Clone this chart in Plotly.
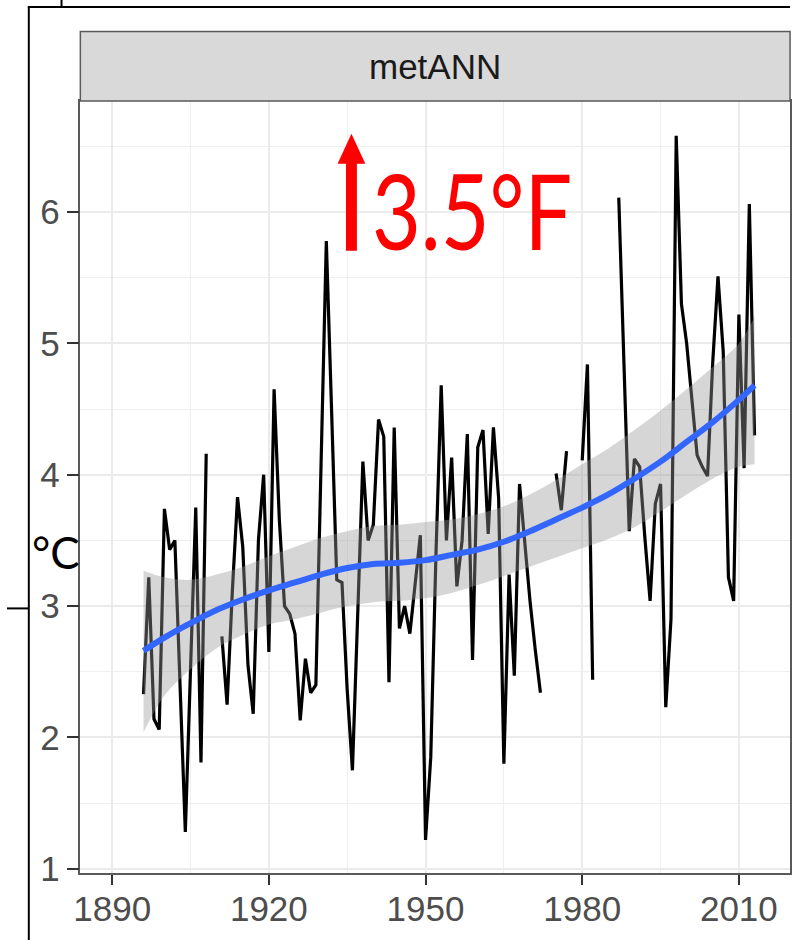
import plotly.graph_objects as go

# ---------------- data ----------------
years = list(range(1896, 2014))
temps = [
    2.33, 3.22, 2.14, 2.06, 3.74, 3.43, 3.50, 2.42, 1.28, 2.52,   # 1896-1905
    3.75, 1.81, 4.16, None, None, 2.77, 2.25, 3.11, 3.83, 3.45,   # 1906-1915
    2.55, 2.18, 3.50, 4.00, 2.65, 4.65, 3.66, 3.00, 2.94, 2.79,   # 1916-1925
    2.13, 2.60, 2.34, 2.40, 4.05, 5.78, 4.50, 3.20, 3.18, 2.36,   # 1926-1935
    1.75, 2.92, 4.10, 3.50, 3.62, 4.42, 4.29, 2.42, 4.36, 2.83,   # 1936-1945
    3.00, 2.79, 3.15, 3.54, 1.22, 1.85, 3.40, 4.68, 3.50, 4.13,   # 1946-1955
    3.15, 3.50, 4.31, 2.59, 4.21, 4.34, 3.55, 4.36, 3.82, 1.80,   # 1956-1965
    3.24, 2.47, 3.93, 3.46, 3.04, 2.67, 2.34, None, None, 4.01,   # 1966-1975
    3.73, 4.18, None, None, 4.11, 4.84, 2.44, None, None, None,   # 1976-1985
    None, 6.11, 4.84, 3.57, 4.12, 4.06, 3.52, 3.04, 3.78, 3.93,   # 1986-1995
    2.23, 2.90, 6.58, 5.30, 5.00, 4.54, 4.15, 4.06, 3.99, 4.86,   # 1996-2005
    5.51, 4.94, 3.22, 3.04, 5.22, 4.05, 6.06, 4.30,               # 2006-2013
]

smooth_years = [1896, 1900, 1905, 1910, 1915, 1920, 1925, 1930, 1935, 1940, 1945, 1950,
                1955, 1960, 1965, 1970, 1975, 1980, 1985, 1990, 1995, 2000, 2005, 2010, 2013]
smooth_fit = [2.66, 2.76, 2.87, 2.97, 3.05, 3.12, 3.18, 3.24, 3.29, 3.32, 3.33, 3.35,
              3.39, 3.43, 3.49, 3.57, 3.66, 3.75, 3.85, 3.97, 4.10, 4.25, 4.40, 4.57, 4.68]
smooth_hi = [3.27, 3.22, 3.20, 3.24, 3.30, 3.38, 3.45, 3.52, 3.57, 3.61, 3.62, 3.64,
             3.66, 3.70, 3.76, 3.85, 3.96, 4.08, 4.20, 4.34, 4.49, 4.65, 4.82, 5.00, 5.20]
smooth_lo = [2.04, 2.32, 2.52, 2.68, 2.78, 2.86, 2.90, 2.95, 3.00, 3.03, 3.04, 3.06,
             3.10, 3.16, 3.23, 3.30, 3.37, 3.44, 3.51, 3.60, 3.72, 3.85, 3.97, 4.06, 4.08]

x_ticks = [1890, 1920, 1950, 1980, 2010]
y_ticks = [1, 2, 3, 4, 5, 6]
panel_title = "metANN"
change_label = "3.5°F"
unit_label = "°C"

W, H = 796, 940
SY = 0.985  # vertical compensation observed in the rendered page


def px(x):
    return x / W


def py(y):
    return 1 - (y / SY) / H


fig = go.Figure()

fig.add_trace(go.Scatter(x=years, y=temps, mode="lines", connectgaps=False,
                         line=dict(color="black", width=3.2), hoverinfo="skip"))
fig.add_trace(go.Scatter(x=smooth_years, y=smooth_lo, mode="lines",
                         line=dict(width=0, shape="spline"), hoverinfo="skip"))
fig.add_trace(go.Scatter(x=smooth_years, y=smooth_hi, mode="lines", fill="tonexty",
                         fillcolor="rgba(153,153,153,0.4)",
                         line=dict(width=0, shape="spline"), hoverinfo="skip"))
fig.add_trace(go.Scatter(x=smooth_years, y=smooth_fit, mode="lines",
                         line=dict(color="#3366FF", width=6, shape="spline"),
                         hoverinfo="skip"))

axis_common = dict(
    showline=True, linecolor="#5a5a5a", linewidth=1.5, mirror=True,
    ticks="outside", tickcolor="#333333", tickwidth=2,
    tickfont=dict(family="Liberation Sans, Arial, sans-serif", size=35, color="#4d4d4d"),
    gridcolor="#ebebeb", gridwidth=1.6, zeroline=False,
)

fig.update_layout(
    width=W, height=H,
    margin=dict(l=0, r=0, t=0, b=0),
    paper_bgcolor="white", plot_bgcolor="white",
    showlegend=False,
    xaxis=dict(domain=[px(74), px(790)], range=[1883.9, 2019.8],
               tickvals=x_ticks, ticklen=10, ticklabelstandoff=-6,
               minor=dict(dtick=15, tick0=1890, showgrid=True, gridcolor="#efefef",
                          gridwidth=1.3, ticks=""),
               **axis_common),
    yaxis=dict(domain=[py(874), py(101)], range=[0.967, 6.846],
               tickvals=y_ticks, ticklen=12,
               minor=dict(dtick=0.5, tick0=1, showgrid=True, gridcolor="#efefef",
                          gridwidth=1.3, ticks=""),
               **axis_common),
)

shapes = []
# facet strip
shapes.append(dict(type="rect", xref="paper", yref="paper",
                   x0=px(74), x1=px(790), y0=py(101), y1=py(31.5),
                   fillcolor="#d9d9d9", line=dict(color="#5a5a5a", width=1.5)))
# red arrow
shapes.append(dict(type="rect", xref="paper", yref="paper",
                   x0=px(342), x1=px(353), y0=py(251), y1=py(162),
                   fillcolor="#ff0000", line=dict(width=0)))
shapes.append(dict(type="path", xref="paper", yref="paper",
                   path=f"M {px(333.5)} {py(164)} L {px(361.5)} {py(164)} L {px(347.5)} {py(134)} Z",
                   fillcolor="#ff0000", line=dict(width=0)))
# surrounding black frame lines from the screenshot
frame = dict(color="black", width=2)
shapes.append(dict(type="line", xref="paper", yref="paper",
                   x0=px(22), x1=px(22), y0=py(7), y1=py(960), line=frame))
shapes.append(dict(type="line", xref="paper", yref="paper",
                   x0=px(21), x1=px(790), y0=py(7), y1=py(7), line=frame))
shapes.append(dict(type="line", xref="paper", yref="paper",
                   x0=px(55), x1=px(55), y0=py(-2), y1=py(7), line=frame))
shapes.append(dict(type="line", xref="paper", yref="paper",
                   x0=px(0), x1=px(22), y0=py(609), y1=py(609), line=frame))
fig.update_layout(shapes=shapes)

fig.add_annotation(x=px(432), y=py(67), xref="paper", yref="paper",
                   xanchor="center", yanchor="middle",
                   text=panel_title, showarrow=False,
                   font=dict(family="Liberation Sans, Arial, sans-serif", size=35, color="#1a1a1a"))
fig.add_annotation(x=px(366), y=py(210), xref="paper", yref="paper",
                   xanchor="left", yanchor="middle",
                   text=change_label, showarrow=False,
                   font=dict(family="Lato, sans-serif", size=104, color="#ff0000"))
fig.add_annotation(x=px(23), y=py(553), xref="paper", yref="paper",
                   xanchor="left", yanchor="middle",
                   text=unit_label, showarrow=False,
                   font=dict(family="Lato, sans-serif", size=44, color="black"))

# the reference's "3.5°F" is set in a condensed face: compress that text horizontally
post_js = """
document.querySelectorAll('text.annotation-text').forEach(function(t){
  if (t.textContent.indexOf('\\u00b0F') >= 0) {
    t.style.transformBox = 'fill-box';
    t.style.transformOrigin = '0% 50%';
    t.style.transform = 'scaleX(0.81)';
  }
});
"""

fig.write_html("out.html", post_script=post_js)
